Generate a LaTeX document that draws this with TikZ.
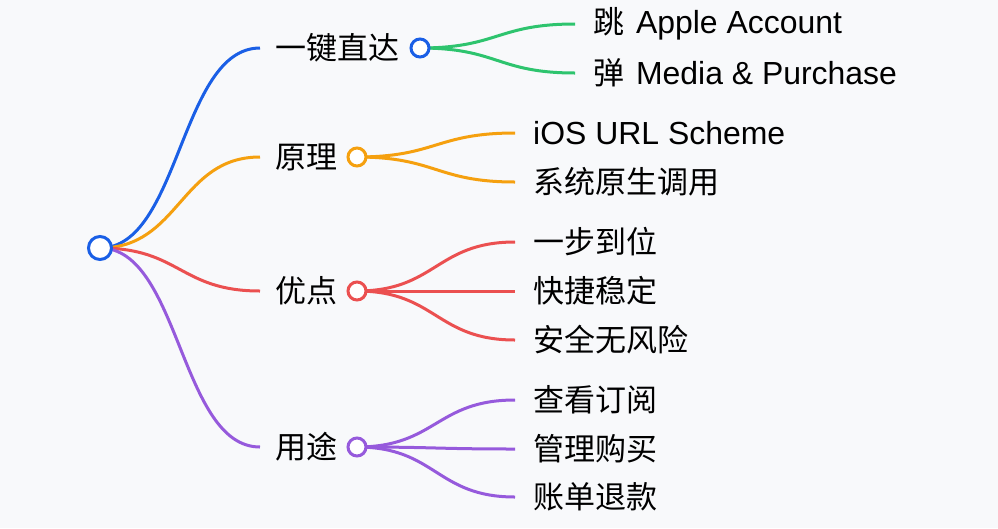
\documentclass[tikz,border=0pt]{standalone}
\usepackage{fontspec}
\setmainfont{Noto Sans CJK SC}
\newfontfamily\lat{Liberation Sans}[Scale=1.03]
\definecolor{bg}{HTML}{F8F9FB}
\definecolor{cblue}{HTML}{1A5FE6}
\definecolor{cgreen}{HTML}{2EC46E}
\definecolor{corange}{HTML}{F5A00F}
\definecolor{cred}{HTML}{EB5050}
\definecolor{cpurple}{HTML}{965ADC}
\begin{document}
\begin{tikzpicture}[x=1pt,y=-1pt,
  lab/.style={anchor=west,inner xsep=15pt,inner ysep=0pt,font=\fontsize{31}{34}\selectfont,text=black},
  leaf/.style={anchor=west,inner xsep=18pt,inner ysep=0pt,font=\fontsize{31}{34}\selectfont,text=black},
  dot/.style={circle,draw=#1,fill=white,line width=3pt,minimum size=18pt,inner sep=0pt},
  edge/.style={draw=#1,line width=3pt}
]
\fill[bg] (0,0) rectangle (998,528);
\useasboundingbox (0,0) rectangle (998,528);

% level 1 labels
\node[lab] (a) at (260,48) {一键直达};
\node[lab] (b) at (260,157) {原理};
\node[lab] (c) at (260,291) {优点};
\node[lab] (d) at (260,447) {用途};

% level 2 leaves
\node[leaf] (a1) at (575,24) {跳\hspace{3pt}{\lat\ Apple Account}};
\node[leaf] (a2) at (575,73) {弹\hspace{3pt}{\lat\ Media \& Purchase}};
\node[leaf] (b1) at (515,133) {\lat iOS URL Scheme};
\node[leaf] (b2) at (515,182) {系统原生调用};
\node[leaf] (c1) at (515,242) {一步到位};
\node[leaf] (c2) at (515,291) {快捷稳定};
\node[leaf] (c3) at (515,340) {安全无风险};
\node[leaf] (d1) at (515,400) {查看订阅};
\node[leaf] (d2) at (515,449) {管理购买};
\node[leaf] (d3) at (515,497) {账单退款};

\coordinate (r0) at (100,248);
% edges level 1
\draw[edge=cblue] (r0) .. controls +(80,0) and +(-80,0) .. (a.west);
\draw[edge=corange] (r0) .. controls +(80,0) and +(-80,0) .. (b.west);
\draw[edge=cred] (r0) .. controls +(80,0) and +(-80,0) .. (c.west);
\draw[edge=cpurple] (r0) .. controls +(80,0) and +(-80,0) .. (d.west);

\coordinate (ra) at (420,48);
\coordinate (rb) at (357,157);
\coordinate (rc) at (357,291);
\coordinate (rd) at (357,447);

\draw[edge=cgreen] (ra) .. controls +(78,0) and +(-78,0) .. (a1.west);
\draw[edge=cgreen] (ra) .. controls +(78,0) and +(-78,0) .. (a2.west);
\draw[edge=corange] (rb) .. controls +(79,0) and +(-79,0) .. (b1.west);
\draw[edge=corange] (rb) .. controls +(79,0) and +(-79,0) .. (b2.west);
\draw[edge=cred] (rc) .. controls +(79,0) and +(-79,0) .. (c1.west);
\draw[edge=cred] (rc) -- (c2.west);
\draw[edge=cred] (rc) .. controls +(79,0) and +(-79,0) .. (c3.west);
\draw[edge=cpurple] (rd) .. controls +(79,0) and +(-79,0) .. (d1.west);
\draw[edge=cpurple] (rd) .. controls +(79,0) and +(-79,0) .. (d2.west);
\draw[edge=cpurple] (rd) .. controls +(79,0) and +(-79,0) .. (d3.west);

\node[dot=cblue] (na) at (ra) {};
\node[dot=corange] (nb) at (rb) {};
\node[dot=cred] (nc) at (rc) {};
\node[dot=cpurple] (nd) at (rd) {};
\node[dot=cblue,minimum size=23pt] (root) at (r0) {};
\end{tikzpicture}
\end{document}
